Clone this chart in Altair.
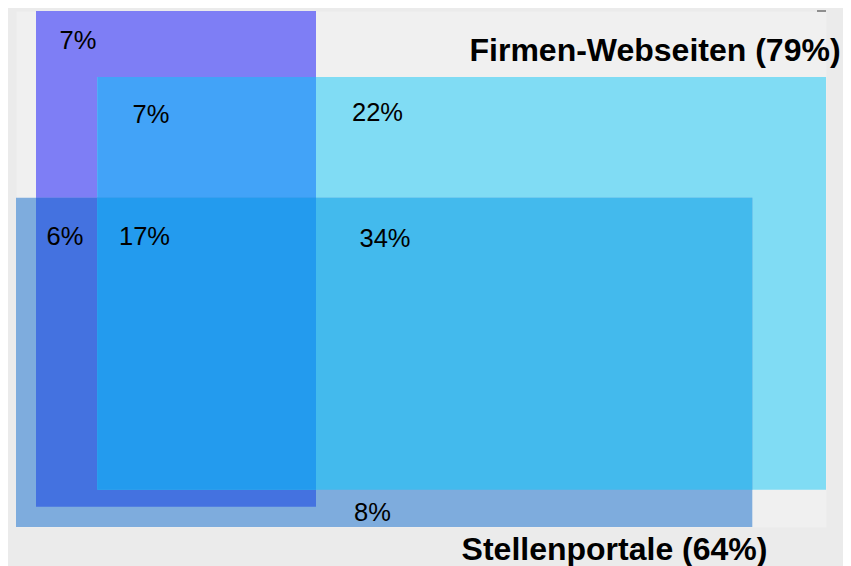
import itertools
import altair as alt
import pandas as pd

# --- data (panel units: x 0..810 left->right, y 0..516 top->bottom) ---
set_names = ["P", "C", "B"]
set_x1 = [20, 81.3, 0]
set_x2 = [300, 810, 736.3]
set_y1 = [0, 66, 186.7]
set_y2 = [495.7, 478.7, 516]

region_colors = {
    "P": "#7e7ef5",
    "C": "#80dcf4",
    "B": "#7eacdd",
    "PC": "#42a3f8",
    "PB": "#4472e0",
    "CB": "#43baed",
    "PCB": "#239bee",
}

label_text = ["7%", "7%", "22%", "6%", "17%", "34%", "8%"]
label_x = [62, 135, 361.5, 49, 128.5, 369, 356.5]
label_y = [29.5, 103.5, 101.5, 225.5, 225.5, 228, 501.5]

set_title = ["Firmen-Webseiten (79%)", "Stellenportale (64%)"]
title_x = [639, 598.5]
title_y = [40, 538.5]

# --- build tables ---
rows = []
for k in (1, 2, 3):
    for combo in itertools.combinations(range(3), k):
        key = "".join(set_names[i] for i in combo)
        rows.append(dict(
            x1=max(set_x1[i] for i in combo),
            x2=min(set_x2[i] for i in combo),
            y1=max(set_y1[i] for i in combo),
            y2=min(set_y2[i] for i in combo),
            color=region_colors[key],
            order=len(rows),
        ))
regions = pd.DataFrame(rows)
labels = pd.DataFrame(dict(text=label_text, x=label_x, y=label_y))
titles = pd.DataFrame(dict(text=set_title, x=title_x, y=title_y))
tick = pd.DataFrame(dict(x=[801], x2=[810], y=[0]))

xs = alt.Scale(domain=[0, 810], nice=False, zero=False)
ys = alt.Scale(domain=[0, 516], nice=False, zero=False, reverse=True)

rects = alt.Chart(regions).mark_rect(strokeWidth=0).encode(
    x=alt.X("x1:Q", scale=xs, axis=None),
    x2="x2:Q",
    y=alt.Y("y1:Q", scale=ys, axis=None),
    y2="y2:Q",
    color=alt.Color("color:N", scale=None),
    order="order:Q",
)

text = alt.Chart(labels).mark_text(
    font="Liberation Sans", fontSize=25.5, color="#000000",
    align="center", baseline="middle",
).encode(
    x=alt.X("x:Q", scale=xs, axis=None),
    y=alt.Y("y:Q", scale=ys, axis=None),
    text="text:N",
)

ttl = alt.Chart(titles).mark_text(
    font="Liberation Sans", fontSize=32, fontWeight="bold", color="#000000",
    align="center", baseline="middle", clip=False,
).encode(
    x=alt.X("x:Q", scale=xs, axis=None),
    y=alt.Y("y:Q", scale=ys, axis=None),
    text="text:N",
)

dash = alt.Chart(tick).mark_rule(color="#333333", strokeWidth=1).encode(
    x=alt.X("x:Q", scale=xs, axis=None),
    x2="x2:Q",
    y=alt.Y("y:Q", scale=ys, axis=None),
)

chart = alt.layer(rects, text, ttl, dash).properties(
    width=810,
    height=516,
    background="#ebebeb",
    padding={"left": 8, "top": 2, "right": 2, "bottom": 0},
).configure_view(fill="#f0f0f0", stroke="transparent")

chart.save("out.html", embed_options={"renderer": "svg", "actions": False})
